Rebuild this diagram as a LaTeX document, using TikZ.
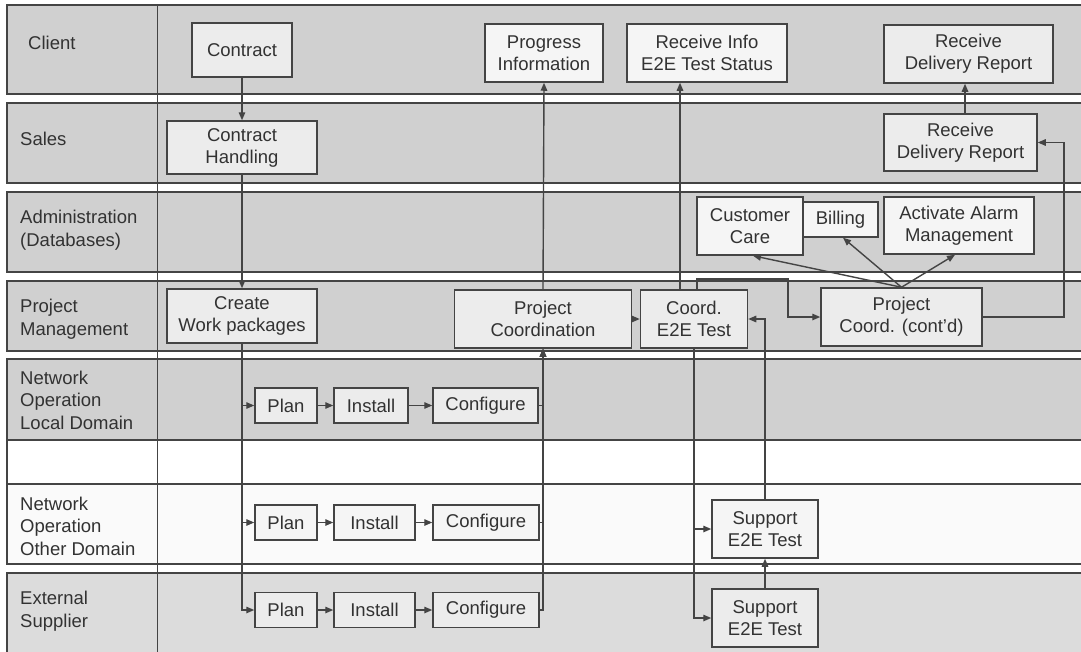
\documentclass[tikz,border=0pt]{standalone}
\usepackage{fontspec}
\setmainfont{Liberation Sans}
\usetikzlibrary{arrows.meta}
\definecolor{lanef}{RGB}{208,208,208}
\definecolor{lanelt}{RGB}{220,220,220}
\definecolor{lanew}{RGB}{250,250,250}
\definecolor{boxf}{RGB}{236,236,236}
\definecolor{boxw}{RGB}{245,245,245}
\definecolor{linec}{RGB}{68,68,68}
\definecolor{txtc}{RGB}{50,50,50}
\tikzset{
  lane/.style={draw=linec, line width=1.3pt},
  lbl/.style={anchor=west, align=left, text=txtc, inner sep=0pt, font=\fontsize{18.5}{22.5}\selectfont},
  box/.style={draw=linec, line width=1.5pt, fill=boxf, align=center, text=txtc, inner sep=0pt, font=\fontsize{18.5}{22}\selectfont},
  wbox/.style={box, fill=boxw},
  arr/.style={draw=linec, line width=1.4pt, -{Triangle[length=8pt,width=6.5pt]}},
}
\begin{document}
\begin{tikzpicture}[x=1pt,y=-1pt]
\useasboundingbox (0,0) rectangle (1081,651);
\fill[white] (0,0) rectangle (1081,651);
% lanes
\filldraw[lane, fill=lanef] (7,5) rectangle (1090,94);
\filldraw[lane, fill=lanef] (7,103) rectangle (1090,183);
\filldraw[lane, fill=lanef] (7,192) rectangle (1090,272);
\filldraw[lane, fill=lanef] (7,281) rectangle (1090,351);
\filldraw[lane, fill=lanef] (7,359) rectangle (1090,440);
\filldraw[lane, fill=white] (7,440) rectangle (1090,484);
\filldraw[lane, fill=lanew] (7,484) rectangle (1090,564);
\filldraw[lane, fill=lanelt] (7,573) rectangle (1090,660);
\draw[lane] (157.5,5) -- (157.5,660);
% labels
\node[lbl] (lc) at (28,43) {Client};
\node[lbl] (ls) at (20,139) {Sales};
\node[lbl] (la) at (20,230) {Administration\\(Databases)};
\node[lbl] (lp) at (20,319) {Project\\Management};
\node[lbl] (ll) at (20,400) {Network\\Operation\\Local Domain};
\node[lbl] (lo) at (20,526) {Network\\Operation\\Other Domain};
\node[lbl] (le) at (20,611) {External\\Supplier};
% boxes
\node[box, minimum width=100, minimum height=54] (contract) at (242,50) {Contract};
\node[box, minimum width=150, minimum height=53] (handling) at (242,147.5) {Contract\\Handling};
\node[box, minimum width=150, minimum height=54] (create) at (242,316) {Create\\Work packages};
\node[wbox, minimum width=118, minimum height=58] (progress) at (544,53) {Progress\\Information};
\node[wbox, minimum width=160, minimum height=58] (recinfo) at (707,53) {Receive Info\\E2E Test Status};
\node[box, minimum width=169, minimum height=58] (rdrc) at (968.5,54) {Receive\\Delivery Report};
\node[box, minimum width=153, minimum height=57] (rdrs) at (960.5,142.5) {Receive\\Delivery Report};
\node[wbox, minimum width=106, minimum height=58] (cc) at (750,226) {Customer\\Care};
\node[wbox, minimum width=75, minimum height=35] (billing) at (840.5,219.5) {Billing};
\node[wbox, minimum width=150, minimum height=57] (alarm) at (959,225.5) {Activate Alarm\\Management};
\node[box, minimum width=177, minimum height=58] (pcoord) at (543,319) {Project\\Coordination};
\node[box, minimum width=107, minimum height=58] (coord) at (694,319) {Coord.\\E2E Test};
\node[box, minimum width=161, minimum height=58] (pcc) at (901.5,317) {Project\\Coord. (cont'd)};
\node[box, minimum width=62, minimum height=35] (plan1) at (286,405.5) {Plan};
\node[box, minimum width=74, minimum height=35] (inst1) at (371,405.5) {Install};
\node[box, minimum width=105, minimum height=35] (conf1) at (485.5,405.5) {Configure};
\node[wbox, minimum width=62, minimum height=35] (plan2) at (286,522.5) {Plan};
\node[wbox, minimum width=81, minimum height=35] (inst2) at (374.5,522.5) {Install};
\node[wbox, minimum width=106, minimum height=35] (conf2) at (486,522.5) {Configure};
\node[box, minimum width=62, minimum height=35] (plan3) at (286,610) {Plan};
\node[box, minimum width=81, minimum height=35] (inst3) at (374.5,610) {Install};
\node[box, minimum width=106, minimum height=35] (conf3) at (486,610) {Configure};
\node[wbox, minimum width=106, minimum height=58] (sup1) at (765,529) {Support\\E2E Test};
\node[box, minimum width=106, minimum height=58] (sup2) at (765,618) {Support\\E2E Test};
% helper coordinates
\coordinate (k1) at (788,279);
\coordinate (k2) at (1064,317);
% connectors
\draw[arr] (contract) -- (handling);
\draw[arr] (handling) -- (create);
\draw[arr] (create.south) |- (plan1.west);
\draw[arr] (create.south) |- (plan2.west);
\draw[arr] (create.south) |- (plan3.west);
\draw[arr] (plan1) -- (inst1);
\draw[arr] (inst1) -- (conf1);
\draw[arr] (plan2) -- (inst2);
\draw[arr] (inst2) -- (conf2);
\draw[arr] (plan3) -- (inst3);
\draw[arr] (inst3) -- (conf3);
\draw[arr] (conf1.east) -| (pcoord.south);
\draw[arr] (conf2.east) -| (pcoord.south);
\draw[arr] (conf3.east) -| (pcoord.south);
\draw[arr] (pcoord.north) -- (progress.south);
\draw[arr] (pcoord.east) -- (coord.west);
\draw[arr] ([xshift=-14pt]coord.north) -- ([xshift=-14pt]coord.north |- recinfo.south);
\draw[arr] ([xshift=3pt]coord.north) |- (k1) |- (pcc.west);
\draw[arr] (coord.south) |- (sup1.west);
\draw[arr] (coord.south) |- (sup2.west);
\draw[arr] (sup2) -- (sup1);
\draw[arr] (sup1.north) |- (coord.east);
\draw[arr] (pcc.north) -- ([xshift=3pt]cc.south);
\draw[arr] (pcc.north) -- ([xshift=2.5pt]billing.south);
\draw[arr] (pcc.north) -- ([xshift=-4pt]alarm.south);
\draw[arr] (pcc.east) -- (k2) |- (rdrs.east);
\draw[arr] ([xshift=4.5pt]rdrs.north) -- ([xshift=4.5pt]rdrs.north |- rdrc.south);
\end{tikzpicture}
\end{document}
